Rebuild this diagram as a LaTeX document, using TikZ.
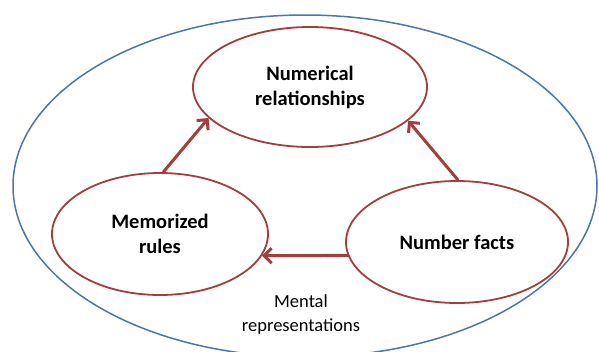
\documentclass[tikz,border=0pt]{standalone}
\usepackage{fontspec}
\setmainfont{Carlito}
\usetikzlibrary{shapes.geometric,arrows.meta}
\definecolor{ered}{RGB}{162,62,60}
\definecolor{eblue}{RGB}{74,118,168}
\tikzset{
  inner/.style={ellipse, draw=ered, line width=1.8pt, inner sep=0pt, align=center,
    font=\fontsize{20.5}{25}\selectfont\bfseries},
  link/.style={draw=ered, line width=3pt, -{Straight Barb[length=7.5pt,width=15pt]}},
}
\begin{document}
\begin{tikzpicture}[x=1pt,y=-1pt]
\useasboundingbox (0,0) rectangle (599,351);
\node[ellipse, draw=eblue, line width=1.5pt, minimum width=584pt, minimum height=342pt, inner sep=0pt] (outer) at (305,186) {};
\node[inner, minimum width=234pt, minimum height=120pt] (num) at (310,87) {Numerical\\relationships};
\node[inner, minimum width=216pt, minimum height=122pt] (mem) at (160,234) {Memorized\\rules};
\node[inner, minimum width=222pt, minimum height=122pt] (nf) at (457,242) {Number facts};
\node[align=center, font=\fontsize{18.5}{24}\selectfont] (lab) at (301,315) {Mental\\representations};
\draw[link] (mem.87) -- (num.197);
\draw[link] (nf.89) -- (num.341);
\draw[link] (nf.187) -- (mem.348);
\end{tikzpicture}
\end{document}
